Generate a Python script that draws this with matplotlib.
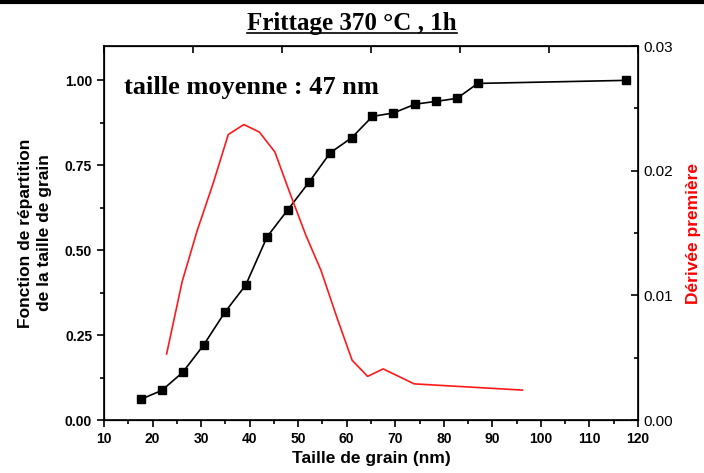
import numpy as np
import matplotlib.pyplot as plt
from matplotlib.ticker import MultipleLocator, FixedLocator
from matplotlib.lines import Line2D

plt.rcParams['font.family'] = ['Liberation Sans', 'DejaVu Sans']

# cumulative distribution (black squares)
taille = [17.6, 21.9, 26.2, 30.5, 34.9, 39.2, 43.6, 47.9, 52.2, 56.6,
          61.0, 65.3, 69.6, 74.1, 78.3, 82.7, 87.0, 117.5]
repartition = [0.061, 0.087, 0.140, 0.220, 0.317, 0.397, 0.539, 0.619, 0.699,
               0.786, 0.830, 0.893, 0.903, 0.929, 0.937, 0.946, 0.990, 0.999]

# first derivative (red)
taille_d = [22.9, 26.1, 29.2, 32.5, 35.6, 38.8, 42.0, 45.2, 48.3, 51.6,
            54.7, 58.0, 61.1, 64.3, 67.5, 70.7, 73.9, 96.2]
derivee = [0.0053, 0.0111, 0.0152, 0.0190, 0.0229, 0.0237, 0.0231, 0.0215,
           0.0182, 0.0148, 0.0120, 0.0082, 0.0048, 0.0035, 0.0041, 0.0035,
           0.0029, 0.0024]

fig = plt.figure(figsize=(7.04, 4.73), dpi=100)
ax = fig.add_axes([0.1477, 0.112, 0.7586, 0.7907])

ax.plot(taille, repartition, color='black', lw=1.2, marker='s', ms=6)
ax.set_xlim(10, 120)
ax.set_ylim(0, 1.1)
ax.xaxis.set_major_locator(MultipleLocator(10))
ax.xaxis.set_minor_locator(MultipleLocator(5))
ax.yaxis.set_major_locator(FixedLocator([0, 0.25, 0.5, 0.75, 1.0]))
ax.yaxis.set_minor_locator(FixedLocator([0.125, 0.375, 0.625, 0.875]))
ax.tick_params(axis='both', which='major', direction='out', length=5, width=1.2,
               labelsize=10)
ax.tick_params(axis='both', which='minor', direction='out', length=3, width=1.2)
ax.set_yticklabels(['0.00', '0.25', '0.50', '0.75', '1.00'])
for lab in ax.get_xticklabels() + ax.get_yticklabels():
    lab.set_fontweight('bold')
for s in ax.spines.values():
    s.set_linewidth(1.2)

ax.set_xlabel('Taille de grain (nm)', fontsize=12.5, fontweight='bold', labelpad=4)
ax.set_ylabel('Fonction de répartition\nde la taille de grain', fontsize=12.5,
              fontweight='bold', labelpad=9, linespacing=1.4)

ax.text(0.037, 0.89, 'taille moyenne : 47 nm', transform=ax.transAxes,
        fontsize=19, fontweight='bold', family='Liberation Serif', va='center')

# top axis ticks (inward, no labels)
axt = ax.twiny()
axt.set_xlim(10, 120)
axt.xaxis.set_major_locator(FixedLocator(np.linspace(10, 120, 7)))
axt.tick_params(axis='x', direction='in', length=5, width=1.2, labeltop=False)

ax2 = ax.twinx()
ax2.plot(taille_d, derivee, color='#ff1a1a', lw=1.2)
ax2.set_ylim(0, 0.03)
ax2.yaxis.set_major_locator(MultipleLocator(0.01))
ax2.yaxis.set_minor_locator(MultipleLocator(0.005))
ax2.yaxis.set_major_formatter(plt.FuncFormatter(lambda v, p: '%.2f' % v))
ax2.tick_params(axis='y', which='major', direction='in', length=5, width=1.2,
                labelsize=11)
ax2.tick_params(axis='y', which='minor', direction='in', length=3, width=1.2)
ax2.set_ylabel('Dérivée première', color='red', fontsize=12.5, fontweight='bold',
               labelpad=10)

t = fig.text(0.5, 0.95, 'Frittage 370 °C , 1h', ha='center', va='center',
             fontsize=18, fontweight='bold', family='Liberation Serif')
# underline of the title
fig.canvas.draw()
bb = t.get_window_extent().transformed(fig.transFigure.inverted())
fig.add_artist(Line2D([bb.x0, bb.x1], [bb.y0 + 0.004, bb.y0 + 0.004],
                      color='black', lw=1.2, transform=fig.transFigure))
fig.add_artist(Line2D([0, 1], [0.995, 0.995], color='black', lw=3,
                      transform=fig.transFigure))

fig.savefig('out.png', dpi=100)
